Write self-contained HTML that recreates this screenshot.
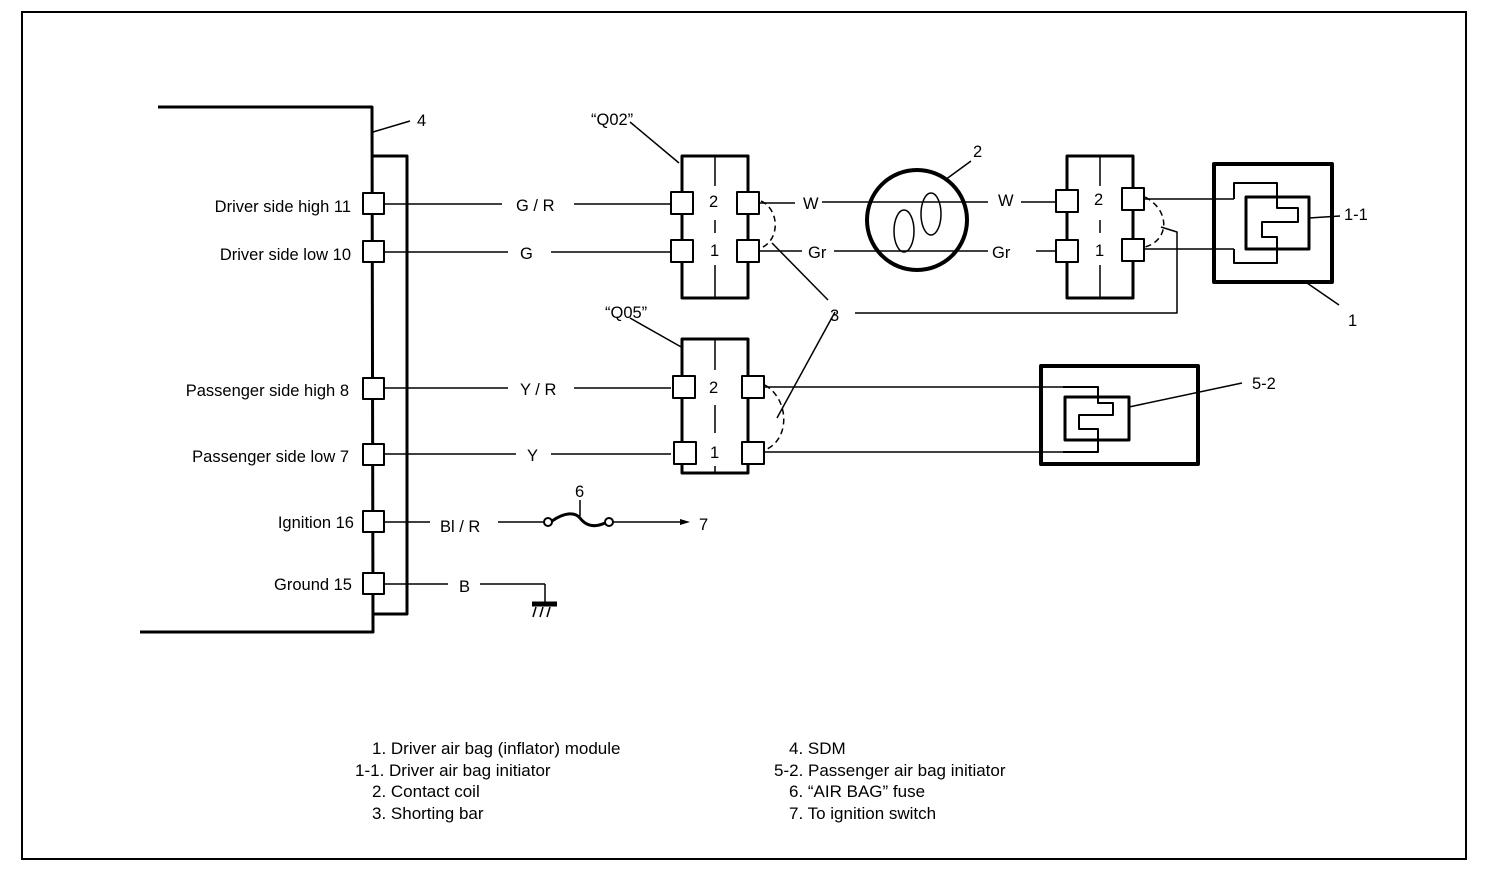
<!DOCTYPE html>
<html><head><meta charset="utf-8"><style>
html,body{margin:0;padding:0;background:#fff;width:1504px;height:876px;overflow:hidden}
svg{display:block}
text{font-family:"Liberation Sans",sans-serif;fill:#000}
</style></head><body>
<svg width="1504" height="876" viewBox="0 0 1504 876" xmlns="http://www.w3.org/2000/svg">
<rect x="22" y="12" width="1444" height="847" fill="none" stroke="#000" stroke-width="2"/>
<g fill="none" stroke="#000" stroke-linejoin="round">
<polyline points="158,107 372,107 373,632 140,632" stroke-width="3"/>
<polyline points="373,156 407,156 407,614 373,614" stroke-width="3"/>
<line x1="373" y1="132" x2="410" y2="121" stroke-width="1.5"/>
<g stroke-width="2" fill="#fff">
<rect x="363" y="193" width="21" height="21"/><rect x="363" y="241" width="21" height="21"/>
<rect x="363" y="378" width="21" height="21"/><rect x="363" y="444" width="21" height="21"/>
<rect x="363" y="511" width="21" height="21"/><rect x="363" y="573" width="21" height="21"/>
</g>
<g stroke-width="1.5">
<line x1="384" y1="204" x2="502" y2="204"/><line x1="574" y1="204" x2="671" y2="204"/>
<line x1="384" y1="252" x2="508" y2="252"/><line x1="551" y1="252" x2="671" y2="252"/>
<line x1="384" y1="388" x2="508" y2="388"/><line x1="574" y1="388" x2="671" y2="388"/>
<line x1="384" y1="454" x2="516" y2="454"/><line x1="551" y1="454" x2="671" y2="454"/>
<line x1="384" y1="522" x2="430" y2="522"/><line x1="498" y1="522" x2="545" y2="522"/>
<line x1="384" y1="584" x2="448" y2="584"/><line x1="480" y1="584" x2="545" y2="584" />
<line x1="545" y1="584" x2="545" y2="603"/>
<line x1="612" y1="522" x2="680" y2="522"/>
</g>
<circle cx="548" cy="522" r="4" stroke-width="2" fill="#fff"/>
<circle cx="609" cy="522" r="4" stroke-width="2" fill="#fff"/>
<path d="M552,521 C565,512 575,512 580,518 C586,526 594,528 605,523" stroke-width="3"/>
<line x1="580" y1="500" x2="580" y2="516" stroke-width="1.5"/>
<line x1="532" y1="604" x2="557" y2="604" stroke-width="5"/>
<g stroke-width="1.5"><line x1="536" y1="607" x2="533" y2="617"/><line x1="543" y1="607" x2="540" y2="617"/><line x1="550" y1="607" x2="547" y2="617"/></g>
<g stroke-width="3">
<rect x="682" y="156" width="66" height="142"/>
<rect x="1067" y="156" width="66" height="142"/>
<rect x="682" y="339" width="66" height="134"/>
</g>
<g stroke-width="1.5">
<line x1="715" y1="156" x2="715" y2="186"/><line x1="715" y1="220" x2="715" y2="233"/><line x1="715" y1="265" x2="715" y2="298"/>
<line x1="1100" y1="156" x2="1100" y2="186"/><line x1="1100" y1="220" x2="1100" y2="233"/><line x1="1100" y1="265" x2="1100" y2="298"/>
<line x1="715" y1="339" x2="715" y2="370"/><line x1="715" y1="405" x2="715" y2="433"/><line x1="715" y1="466" x2="715" y2="473"/>
</g>
<g stroke-width="2" fill="#fff">
<rect x="671" y="192" width="22" height="22"/><rect x="737" y="192" width="22" height="22"/>
<rect x="671" y="240" width="22" height="22"/><rect x="737" y="240" width="22" height="22"/>
<rect x="1056" y="190" width="22" height="22"/><rect x="1122" y="188" width="22" height="22"/>
<rect x="1056" y="240" width="22" height="22"/><rect x="1122" y="239" width="22" height="22"/>
<rect x="673" y="376" width="22" height="22"/><rect x="742" y="376" width="22" height="22"/>
<rect x="674" y="442" width="22" height="22"/><rect x="742" y="442" width="22" height="22"/>
</g>
<line x1="630" y1="122" x2="679" y2="163" stroke-width="1.5"/>
<line x1="630" y1="318" x2="683" y2="348" stroke-width="1.5"/>
<g stroke-width="1.5">
<line x1="759" y1="203" x2="795" y2="203"/><line x1="822" y1="202" x2="935" y2="202"/>
<line x1="935" y1="202" x2="988" y2="202"/>
<line x1="759" y1="251" x2="802" y2="251"/><line x1="834" y1="251" x2="988" y2="251"/>
<line x1="1021" y1="202" x2="1056" y2="202"/>
<line x1="1036" y1="251" x2="1056" y2="251"/>
<line x1="1144" y1="199" x2="1234" y2="199"/>
<line x1="1144" y1="249" x2="1234" y2="249"/>
<line x1="764" y1="387" x2="1063" y2="387"/>
<line x1="764" y1="452" x2="1063" y2="452"/>
<polyline points="1161,227 1177,232 1177,313 855,313"/>
<line x1="772" y1="243" x2="828" y2="300"/>
<line x1="835" y1="312" x2="777" y2="418"/>
</g>
<g stroke-width="1.5" stroke-dasharray="6,4">
<path d="M761,201 C780,210 780,240 761,248"/>
<path d="M1145,197 C1170,210 1170,240 1145,247"/>
<path d="M765,385 C790,400 790,440 765,450"/>
</g>
<circle cx="917" cy="220" r="50" stroke-width="4"/>
<ellipse cx="904" cy="231" rx="10" ry="21" stroke-width="1.5"/>
<ellipse cx="931" cy="214" rx="10" ry="21" stroke-width="1.5"/>
<line x1="945" y1="180" x2="971" y2="161" stroke-width="1.5"/>
<rect x="1214" y="164" width="118" height="118" stroke-width="4"/>
<polyline points="1234,199 1234,183 1277,183 1277,208 1298,208 1298,222 1262,222 1262,237 1277,237 1277,263 1234,263 1234,249" stroke-width="2"/>
<rect x="1246" y="197" width="63" height="52" stroke-width="3"/>
<line x1="1309" y1="218" x2="1340" y2="216" stroke-width="1.5"/>
<line x1="1307" y1="283" x2="1339" y2="305" stroke-width="1.5"/>
<rect x="1041" y="366" width="157" height="98" stroke-width="4"/>
<polyline points="1063,387 1098,387 1098,403 1113,403 1113,415 1079,415 1079,429 1098,429 1098,452 1063,452" stroke-width="2"/>
<rect x="1065" y="397" width="64" height="43" stroke-width="3"/>
<line x1="1129" y1="407" x2="1242" y2="383" stroke-width="1.5"/>
</g>
<g font-size="16.5">
<text x="351" y="212" text-anchor="end">Driver side high 11</text>
<text x="351" y="260" text-anchor="end">Driver side low 10</text>
<text x="349" y="396" text-anchor="end">Passenger side high  8</text>
<text x="349" y="462" text-anchor="end">Passenger side low  7</text>
<text x="354" y="528" text-anchor="end">Ignition 16</text>
<text x="352" y="590" text-anchor="end">Ground 15</text>
<text x="417" y="126">4</text>
<text x="516" y="211">G / R</text>
<text x="520" y="259">G</text>
<text x="520" y="395">Y / R</text>
<text x="527" y="461">Y</text>
<text x="440" y="532">Bl / R</text>
<text x="459" y="592">B</text>
<text x="575" y="497">6</text>
<text x="699" y="530">7</text>
<text x="591" y="125">“Q02”</text>
<text x="605" y="318">“Q05”</text>
<text x="709" y="207">2</text>
<text x="710" y="256">1</text>
<text x="709" y="393">2</text>
<text x="710" y="458">1</text>
<text x="1094" y="205">2</text>
<text x="1095" y="256">1</text>
<text x="803" y="209">W</text>
<text x="808" y="258">Gr</text>
<text x="998" y="206">W</text>
<text x="992" y="258">Gr</text>
<text x="973" y="157">2</text>
<text x="830" y="321">3</text>
<text x="1344" y="220">1-1</text>
<text x="1348" y="326">1</text>
<text x="1252" y="389">5-2</text>
</g>
<g font-size="17">
<text x="372" y="754">1. Driver air bag (inflator) module</text>
<text x="355" y="776">1-1. Driver air bag initiator</text>
<text x="372" y="797">2. Contact coil</text>
<text x="372" y="819">3. Shorting bar</text>
<text x="789" y="754">4. SDM</text>
<text x="774" y="776">5-2. Passenger air bag initiator</text>
<text x="789" y="797">6. “AIR BAG” fuse</text>
<text x="789" y="819">7. To ignition switch</text>
</g>
<polygon points="680,519 690,522 680,525" fill="#000"/>
</svg>
</body></html>
